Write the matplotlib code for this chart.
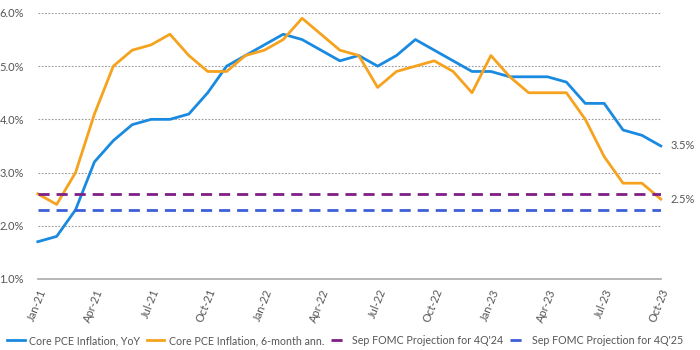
import matplotlib.pyplot as plt

months = ['Jan-21', 'Feb-21', 'Mar-21', 'Apr-21', 'May-21', 'Jun-21', 'Jul-21', 'Aug-21',
          'Sep-21', 'Oct-21', 'Nov-21', 'Dec-21', 'Jan-22', 'Feb-22', 'Mar-22', 'Apr-22',
          'May-22', 'Jun-22', 'Jul-22', 'Aug-22', 'Sep-22', 'Oct-22', 'Nov-22', 'Dec-22',
          'Jan-23', 'Feb-23', 'Mar-23', 'Apr-23', 'May-23', 'Jun-23', 'Jul-23', 'Aug-23',
          'Sep-23', 'Oct-23']

core_yoy = [1.7, 1.8, 2.3, 3.2, 3.6, 3.9, 4.0, 4.0, 4.1, 4.5, 5.0, 5.2, 5.4, 5.6, 5.5, 5.3,
            5.1, 5.2, 5.0, 5.2, 5.5, 5.3, 5.1, 4.9, 4.9, 4.8, 4.8, 4.8, 4.7, 4.3, 4.3, 3.8,
            3.7, 3.5]
core_6m = [2.6, 2.4, 3.0, 4.1, 5.0, 5.3, 5.4, 5.6, 5.2, 4.9, 4.9, 5.2, 5.3, 5.5, 5.9, 5.6,
           5.3, 5.2, 4.6, 4.9, 5.0, 5.1, 4.9, 4.5, 5.2, 4.8, 4.5, 4.5, 4.5, 4.0, 3.3, 2.8,
           2.8, 2.5]
fomc_4q24 = 2.6
fomc_4q25 = 2.3

plt.rcParams['font.family'] = ['Lato', 'DejaVu Sans']

fig = plt.figure(figsize=(7, 3.5), dpi=100)
ax = fig.add_axes([0.054, 0.203, 0.890, 0.760])

x = list(range(len(months)))
ax.plot(x, core_yoy, color='#1a8ae0', lw=2, label='Core PCE Inflation, YoY', clip_on=False)
ax.plot(x, core_6m, color='#f5a31f', lw=2, label='Core PCE Inflation, 6-month ann.', clip_on=False)
ax.plot(x, [fomc_4q24] * len(x), color='#7d1f86', lw=2, ls=(0, (4, 2.5)),
        label="Sep FOMC Projection for 4Q'24")
ax.plot(x, [fomc_4q25] * len(x), color='#3c5fd6', lw=2, ls=(0, (4, 2.5)),
        label="Sep FOMC Projection for 4Q'25")

ax.set_xlim(0, len(x) - 1)
ax.set_ylim(1, 6)
ax.set_yticks([1, 2, 3, 4, 5, 6])
ax.set_yticklabels([f'{v:.1f}%' for v in [1, 2, 3, 4, 5, 6]], color='#555555', fontsize=8)
ax.set_xticks(x[::3])
ax.set_xticklabels(months[::3], rotation=68, ha='right', rotation_mode='anchor',
                   color='#555555', fontsize=8)
ax.tick_params(length=0, pad=10)
ax.tick_params(axis='x', pad=6)

for v in [2, 3, 4, 5, 6]:
    ax.axhline(v, color='#999999', lw=0.8, ls=(0, (1.5, 1.5)), zorder=0)

for s in ['top', 'right', 'left']:
    ax.spines[s].set_visible(False)
ax.spines['bottom'].set_color('#aaaaaa')
ax.spines['bottom'].set_linewidth(1.2)

ax.text(len(x) - 1 + 0.5, core_yoy[-1], f'{core_yoy[-1]:.1f}%', va='center', ha='left',
        fontsize=8, color='#555555')
ax.text(len(x) - 1 + 0.5, core_6m[-1], f'{core_6m[-1]:.1f}%', va='center', ha='left',
        fontsize=8, color='#555555')

fig.legend(loc='lower left', bbox_to_anchor=(0.0, -0.01), ncol=4, frameon=False,
           fontsize=7.7, handlelength=1.6, handletextpad=0.45, columnspacing=0.6,
           borderaxespad=0.3, labelcolor='#555555')

fig.savefig('out.png', dpi=100)
